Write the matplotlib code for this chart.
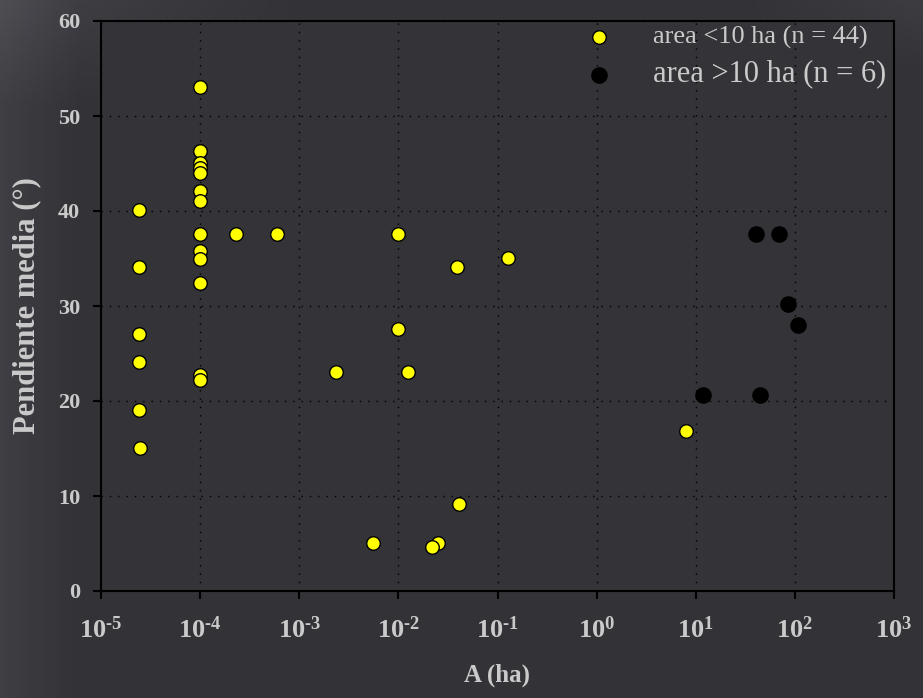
import matplotlib
matplotlib.use("Agg")
import matplotlib.pyplot as plt
import numpy as np
from matplotlib.colors import LinearSegmentedColormap
from matplotlib.ticker import FuncFormatter, NullLocator

plt.rcParams["font.family"] = ["Liberation Serif", "DejaVu Serif"]
plt.rcParams["axes.unicode_minus"] = False
plt.rcParams["mathtext.fontset"] = "custom"
plt.rcParams["mathtext.rm"] = "Liberation Serif:bold"
plt.rcParams["mathtext.it"] = "Liberation Serif:bold"
plt.rcParams["mathtext.bf"] = "Liberation Serif:bold"

# area < 10 ha
small_area = [1e-4] * 13 + [2.4e-5] * 5 + [2.45e-5] + [2.3e-4, 5.9e-4,
              9.8e-3, 0.039, 0.128, 9.8e-3, 2.34e-3, 0.0125, 0.0407,
              5.6e-3, 0.0252, 0.022, 7.9]
small_slope = [53.1, 46.3, 45.1, 44.5, 44.0, 42.1, 41.1, 37.6, 35.8, 35.0,
               32.4, 22.7, 22.2,
               40.1, 34.1, 27.1, 24.1, 19.1, 15.1,
               37.6, 37.6, 37.6, 34.1, 35.1, 27.6, 23.1, 23.1, 9.2,
               5.1, 5.1, 4.6, 16.8]

# area > 10 ha
big_area = [40.9, 69.0, 85.0, 107.0, 11.8, 44.4]
big_slope = [37.6, 37.6, 30.2, 28.0, 20.6, 20.6]

x_ticks = [1e-5, 1e-4, 1e-3, 1e-2, 1e-1, 1e0, 1e1, 1e2, 1e3]
y_ticks = [0, 10, 20, 30, 40, 50, 60]

txt = "#cacaca"
bg = "#343439"

fig = plt.figure(figsize=(9.23, 6.98), dpi=100, facecolor=bg)

# soft background shading (lighter towards the corners/edges)
bg_ax = fig.add_axes([0, 0, 1, 1], zorder=-10)
gx, gy = np.meshgrid(np.linspace(0, 1, 200), np.linspace(0, 1, 200))
shade = (0.35 * np.clip(1 - gx * 12, 0, 1)
         + 0.45 * np.clip((gy - 0.85) * 6.5, 0, 1) * np.clip(1 - gx * 3, 0, 1)
         + 0.3 * np.clip((gy - 0.9) * 10, 0, 1) * np.clip((gx - 0.8) * 5, 0, 1))
cmap = LinearSegmentedColormap.from_list("bgc", ["#323237", "#55555b"])
bg_ax.imshow(shade, cmap=cmap, vmin=0, vmax=1, aspect="auto",
             extent=[0, 1, 0, 1], origin="lower")
bg_ax.axis("off")

ax = fig.add_axes([101 / 923, 1 - 591 / 698, 793 / 923, 570 / 698])
ax.set_facecolor("#333338")

ax.scatter(small_area, small_slope, s=95, c="#ffff00", edgecolors="black",
           linewidths=1.0, zorder=3, label="area <10 ha (n = 44)")
ax.scatter(big_area, big_slope, s=120, c="black", edgecolors="black",
           linewidths=1.0, zorder=3, label="area >10 ha (n = 6)")

ax.set_xscale("log")
ax.set_xlim(1e-5, 1e3)
ax.set_ylim(0, 60)
ax.set_xticks(x_ticks)
ax.xaxis.set_minor_locator(NullLocator())
ax.xaxis.set_major_formatter(
    FuncFormatter(lambda v, p: r"$\mathrm{10^{\text{%d}}}$" % round(np.log10(v))))
ax.set_yticks(y_ticks)

ax.grid(True, color="black", linestyle=(0, (1, 5)), linewidth=1.0)
ax.set_axisbelow(True)

for s in ax.spines.values():
    s.set_color("black")
    s.set_linewidth(1.5)

ax.tick_params(axis="both", direction="out", length=6, width=1.5,
               color="black", labelcolor=txt)
ax.tick_params(axis="x", pad=12, labelsize=19)
ax.tick_params(axis="y", pad=9, labelsize=16)
for lab in ax.get_xticklabels() + ax.get_yticklabels():
    lab.set_fontweight("bold")

ax.set_xlabel("A (ha)", color=txt, fontsize=18, fontweight="bold", labelpad=15)
ax.set_ylabel("Pendiente media (°)", color=txt, fontsize=22,
              fontweight="bold", labelpad=12)

leg = ax.legend(loc="upper left", frameon=False, fontsize=19,
                handlelength=2.0, handletextpad=1.05, borderpad=0,
                labelspacing=0.4, borderaxespad=0,
                bbox_to_anchor=(573 / 923, 1 - 25 / 698),
                bbox_transform=fig.transFigure)
texts = leg.get_texts()
texts[0].set_fontsize(19)
texts[1].set_fontsize(22)
for t in texts:
    t.set_color(txt)

fig.savefig("out.png", dpi=100, facecolor=bg)
